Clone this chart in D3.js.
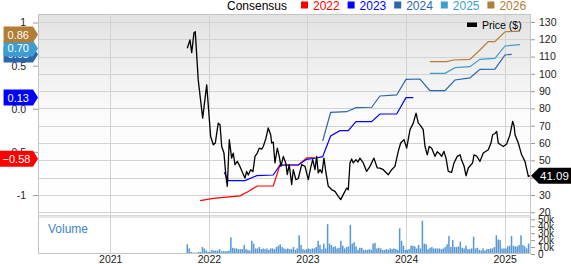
<!DOCTYPE html>
<html><head><meta charset="utf-8">
<script src="https://cdn.jsdelivr.net/npm/d3@7"></script>
<style>body{margin:0;background:#fff}svg{display:block;font-family:Arial,"Liberation Sans",sans-serif}</style>
</head><body><svg id="c" width="571" height="264"></svg>
<script>
// ---------- DATA ----------
const yearTicks = [2021, 2022, 2023, 2024, 2025];
const priceTicks = [20, 30, 40, 50, 60, 70, 80, 90, 100, 110, 120, 130];
const epsTicks = [1, 0.5, 0, -0.5, -1];
const epsTickLabels = ["1", "0.5", "0.0", "-0.5", "-1"];
const volTicks = [0, 10, 20, 30, 40, 50];
const volTickLabels = ["0", "10k", "20k", "30k", "40k", "50k"];
const legendYears = ["2022", "2023", "2024", "2025", "2026"];
const legendColors = ["#ff0000", "#0000ff", "#2a66b0", "#3d9dd0", "#b27d35"];

// price (decimal year, $)
const priceSeries = [
[2021.781,114.8],[2021.808,119.6],[2021.826,112.3],[2021.849,123.8],[2021.862,124.4],[2021.892,96.5],
[2021.937,74.4],[2021.978,93.6],[2022.018,63.8],[2022.045,59],[2022.065,60],[2022.095,71.5],[2022.113,70.6],
[2022.130,58],[2022.153,54.2],[2022.173,40.7],[2022.187,35],[2022.207,62],[2022.231,51.3],[2022.247,54.2],
[2022.265,47.5],[2022.288,49.4],[2022.315,46.5],[2022.343,42.7],[2022.366,39.8],[2022.383,43.6],[2022.400,41.5],
[2022.424,44.6],[2022.447,43.5],[2022.468,52.3],[2022.491,54.2],[2022.511,57],[2022.536,56.5],[2022.552,58],
[2022.579,62.8],[2022.602,68.7],[2022.627,64.8],[2022.637,60],[2022.653,60.5],[2022.670,48.5],[2022.694,57],
[2022.714,52.3],[2022.731,46.5],[2022.755,52.3],[2022.782,48],[2022.795,41.7],[2022.815,47.5],[2022.840,36],
[2022.856,44.6],[2022.883,38.8],[2022.907,39.5],[2022.941,47.5],[2022.975,46.5],[2023.008,38.8],[2023.032,45.6],
[2023.053,50.4],[2023.076,44.6],[2023.093,52.3],[2023.109,42.7],[2023.127,44.6],[2023.147,42.7],[2023.167,51.3],
[2023.188,42.7],[2023.211,35],[2023.245,33.1],[2023.279,32.1],[2023.312,29.2],[2023.337,27.3],[2023.363,30.2],
[2023.398,34],[2023.414,33],[2023.431,48.5],[2023.448,50.8],[2023.465,48.5],[2023.492,50.4],[2023.512,49],
[2023.532,51.3],[2023.566,48.5],[2023.600,43.6],[2023.634,46.5],[2023.674,51.3],[2023.708,45.6],[2023.735,45.5],
[2023.769,44.6],[2023.820,41.7],[2023.854,44.6],[2023.887,46.5],[2023.921,55.2],[2023.945,60],[2023.979,62],
[2024.006,57.1],[2024.040,67.7],[2024.073,71.5],[2024.101,77.3],[2024.124,71.5],[2024.141,70.5],[2024.174,67.7],
[2024.192,58],[2024.215,53.2],[2024.235,58],[2024.260,57],[2024.293,52.3],[2024.316,55],[2024.337,54],
[2024.361,52.3],[2024.384,55.2],[2024.405,51.3],[2024.428,43.6],[2024.462,43.1],[2024.486,48.5],[2024.519,52.3],
[2024.547,53.2],[2024.564,50],[2024.587,46.9],[2024.608,41.1],[2024.631,45.6],[2024.675,48.5],[2024.689,53.2],
[2024.716,52.5],[2024.749,49.4],[2024.783,54.2],[2024.834,56.1],[2024.861,60],[2024.878,64.8],[2024.902,65.5],
[2024.919,66.7],[2024.935,60],[2024.959,59],[2024.986,58],[2025.020,59.5],[2025.054,64.8],[2025.081,72.5],
[2025.095,70],[2025.105,64.8],[2025.138,60],[2025.172,53.2],[2025.206,49.4],[2025.240,40.7],[2025.257,41.09]
];
const lastPrice = "41.09";

// consensus EPS estimates (decimal year, EPS) per fiscal year
const cons2022 = [[2021.912,-1.066],[2022.045,-1.04],[2022.315,-1.01],[2022.400,-0.96],[2022.491,-0.896],[2022.653,-0.896],[2022.721,-0.652],[2022.907,-0.652],[2022.992,-0.57],[2023.076,-0.57]];
const cons2023 = [[2022.156,-0.737],[2022.197,-0.834],[2022.366,-0.834],[2022.485,-0.776],[2022.653,-0.768],[2022.721,-0.652],[2022.907,-0.652],[2022.992,-0.586],[2023.076,-0.574],[2023.154,-0.556],[2023.235,-0.316],[2023.329,-0.254],[2023.414,-0.254],[2023.492,-0.15],[2023.651,-0.15],[2023.735,-0.061],[2023.905,-0.061],[2023.999,0.128],[2024.073,0.128]];
const cons2024 = [[2023.154,-0.374],[2023.235,-0.042],[2023.398,-0.034],[2023.492,0.012],[2023.651,0.017],[2023.735,0.148],[2023.905,0.16],[2023.999,0.341],[2024.141,0.345],[2024.242,0.21],[2024.394,0.21],[2024.496,0.333],[2024.648,0.357],[2024.749,0.457],[2024.901,0.46],[2025.003,0.623],[2025.071,0.631]];
const cons2025 = [[2024.242,0.411],[2024.394,0.411],[2024.496,0.476],[2024.648,0.488],[2024.749,0.573],[2024.901,0.584],[2025.003,0.728],[2025.155,0.743]];
const cons2026 = [[2024.242,0.546],[2024.412,0.546],[2024.479,0.565],[2024.648,0.573],[2024.749,0.681],[2024.834,0.778],[2024.901,0.778],[2025.003,0.893],[2025.155,0.9]];
const consTags = [0.63, 0.70, 0.86]; // 2024, 2025, 2026 drawn in this order
const consTagsLow = [0.13, -0.58];   // 2023, 2022

// weekly volume (thousands), starting at volumeStart
const volumeStart = 2021.781;
const volumeK = [
14,8,3,2,2,2,3,3,10,8, 5,3,3,6,5,5,5,7,4,4, 4,4,5,24,9,8,8,7,7,7, 13,7,6,5,19,15,8,8,10,7,
8,7,8,6,8,8,7,10,12,14, 10,8,7,8,7,7,10,6,8,27, 13,7,6,7,8,7,8,8,10,19, 13,7,15,8,43,15,13,10,11,8,
9,19,12,8,10,11,42,15,17,11, 6,9,9,6,6,6,7,6,15,16, 8,9,8,6,6,7,6,8,7,8, 7,6,37,19,12,6,6,7,12,12,
11,8,13,8,48,15,14,7,9,10, 8,8,8,8,7,8,10,14,26,10, 20,10,10,11,18,9,8,12,7,7, 8,25,8,9,6,5,8,5,7,7,
8,8,10,27,21,20,8,8,8,11, 12,26,12,11,11,13,27,13,11,8, 15
];

// ---------- LAYOUT ----------
const L = 38, R = 531, T = 14, B = 215, VT = 218, VB = 254;
const svg = d3.select("#c");
const x = d3.scaleLinear().domain([2020.267, 2025.267]).range([L, R]);
const yP = d3.scaleLinear().domain([18.4, 134.6]).range([B, T]);
const yE = d3.scaleLinear().domain([-1.232, 1.0986]).range([B, T]);
const yV = d3.scaleLinear().domain([0, 51.9]).range([VB, VT]);
const gridC = "#d2d2d2";

const defs = svg.append("defs");
const grad = defs.append("linearGradient").attr("id", "bg").attr("x1", 0).attr("x2", 0).attr("y1", 0).attr("y2", 1);
grad.append("stop").attr("offset", "0%").attr("stop-color", "#e2e2e2");
grad.append("stop").attr("offset", "50%").attr("stop-color", "#fbfbfb");
grad.append("stop").attr("offset", "100%").attr("stop-color", "#ffffff");
defs.append("clipPath").attr("id", "clip").append("rect").attr("x", L).attr("y", T).attr("width", R - L).attr("height", B - T);

// backgrounds
svg.append("rect").attr("x", L).attr("y", T).attr("width", R - L).attr("height", B - T).attr("fill", "url(#bg)");
svg.append("rect").attr("x", L).attr("y", B).attr("width", R - L).attr("height", VT - B).attr("fill", "#e6e6e6");
svg.append("rect").attr("x", L).attr("y", VT).attr("width", R - L).attr("height", VB - VT).attr("fill", "#ffffff");

// grid
svg.append("g").selectAll("line").data(priceTicks).join("line")
  .attr("x1", L).attr("x2", R).attr("y1", d => Math.round(yP(d)) + 0.5).attr("y2", d => Math.round(yP(d)) + 0.5)
  .attr("stroke", gridC);
svg.append("g").selectAll("line").data(yearTicks).join("line")
  .attr("x1", d => Math.round(x(d)) + 0.5).attr("x2", d => Math.round(x(d)) + 0.5).attr("y1", T).attr("y2", VB)
  .attr("stroke", gridC);

// volume bars
svg.append("g").selectAll("rect").data(volumeK).join("rect")
  .attr("x", (d, i) => x(volumeStart + i / 52) - 0.75).attr("width", 1.5)
  .attr("y", d => yV(d)).attr("height", d => VB - yV(d))
  .attr("fill", "#5497d4");
svg.append("text").attr("x", 48).attr("y", 233).attr("font-size", 12).attr("fill", "#3a86c6").text("Volume");

// consensus lines
const line = d3.line().x(d => x(d[0])).y(d => yE(d[1]));
const gl = svg.append("g").attr("clip-path", "url(#clip)");
[[cons2022, legendColors[0]], [cons2023, legendColors[1]], [cons2024, legendColors[2]], [cons2025, legendColors[3]], [cons2026, legendColors[4]]]
  .forEach(([data, c]) => gl.append("path").datum(data).attr("d", line).attr("fill", "none").attr("stroke", c).attr("stroke-width", 1.2));

// price line
const pline = d3.line().x(d => x(d[0])).y(d => yP(d[1]));
gl.append("path").datum(priceSeries).attr("d", pline).attr("fill", "none").attr("stroke", "#000").attr("stroke-width", 1.3).attr("stroke-linejoin", "round");

// borders
svg.append("rect").attr("x", L + 0.5).attr("y", T + 0.5).attr("width", R - L - 1).attr("height", VB - T - 1)
  .attr("fill", "none").attr("stroke", "#c4c4c4");
svg.append("line").attr("x1", L).attr("x2", R).attr("y1", B + 0.5).attr("y2", B + 0.5).attr("stroke", "#d8d8d8");

// axes
const tcol = "#222";
const rAxis = svg.append("g").attr("transform", `translate(${R},0)`)
  .call(d3.axisRight(yP).tickValues(priceTicks).tickSize(4).tickPadding(4));
rAxis.select(".domain").remove();
rAxis.selectAll("line").attr("stroke", "#999");
rAxis.selectAll("text").attr("font-size", 10.5).attr("fill", tcol).attr("font-family", "Arial, Liberation Sans, sans-serif");

const vAxis = svg.append("g").attr("transform", `translate(${R},0)`)
  .call(d3.axisRight(yV).tickValues(volTicks).tickFormat((d, i) => volTickLabels[i]).tickSize(4).tickPadding(3));
vAxis.select(".domain").remove();
vAxis.selectAll("line").attr("stroke", "#999");
vAxis.selectAll("text").attr("font-size", 10).attr("fill", tcol).attr("font-family", "Arial, Liberation Sans, sans-serif");

const lAxis = svg.append("g").attr("transform", `translate(${L},0)`)
  .call(d3.axisLeft(yE).tickValues(epsTicks).tickFormat((d, i) => epsTickLabels[i]).tickSize(5).tickPadding(7));
lAxis.select(".domain").remove();
lAxis.selectAll("line").attr("stroke", "#999");
lAxis.selectAll("text").attr("font-size", 10.5).attr("fill", tcol).attr("font-family", "Arial, Liberation Sans, sans-serif");

const xAxis = svg.append("g").attr("transform", `translate(0,${VB})`)
  .call(d3.axisBottom(x).tickValues(yearTicks).tickFormat(d3.format("d")).tickSize(0));
xAxis.select(".domain").remove();
xAxis.selectAll("text").attr("y", 9).attr("dy", 0).attr("font-size", 10.5).attr("fill", tcol).attr("font-family", "Arial, Liberation Sans, sans-serif");

// left tags
function leftTag(v, color) {
  const cy = yE(v);
  const label = d3.format(".2f")(v);
  const g = svg.append("g");
  const t = g.append("text").attr("x", 0).attr("y", cy + 4).attr("font-size", 11).attr("fill", "#fff").text(label);
  const w = t.node().getComputedTextLength();
  const x1 = 33, x0 = Math.max(0, x1 - w - 8);
  g.insert("path", "text").attr("d", `M${x0},${cy - 8}L${x1},${cy - 8}L${L},${cy}L${x1},${cy + 8}L${x0},${cy + 8}Z`).attr("fill", color);
  t.attr("x", x0 + (x1 - x0 - w) / 2);
}
leftTag(consTagsLow[1], legendColors[0]);
leftTag(consTagsLow[0], legendColors[1]);
leftTag(consTags[0], legendColors[2]);
leftTag(consTags[1], legendColors[3]);
leftTag(consTags[2], legendColors[4]);

// right price tag
(function () {
  const cy = yP(+lastPrice);
  svg.append("path").attr("d", `M${R},${cy}L${R + 8},${cy - 8}L571,${cy - 8}L571,${cy + 8}L${R + 8},${cy + 8}Z`).attr("fill", "#000");
  svg.append("text").attr("x", 540).attr("y", cy + 4).attr("font-size", 11.5).attr("fill", "#fff").text(lastPrice);
})();

// legend
svg.append("text").attr("x", 227).attr("y", 10).attr("font-size", 12).attr("fill", "#000").text("Consensus");
const lg = svg.append("g").selectAll("g").data(legendYears).join("g")
  .attr("transform", (d, i) => `translate(${301 + i * 46.6},0)`);
lg.append("rect").attr("x", 0).attr("y", 1.5).attr("width", 7).attr("height", 7).attr("fill", (d, i) => legendColors[i]);
lg.append("text").attr("x", 12).attr("y", 10).attr("font-size", 12).attr("fill", (d, i) => legendColors[i]).text(d => d);

svg.append("rect").attr("x", 467).attr("y", 22.5).attr("width", 10).attr("height", 4.5).attr("fill", "#000");
svg.append("text").attr("x", 482).attr("y", 29).attr("font-size", 10.5).attr("fill", "#000").text("Price ($)");
</script></body></html>
